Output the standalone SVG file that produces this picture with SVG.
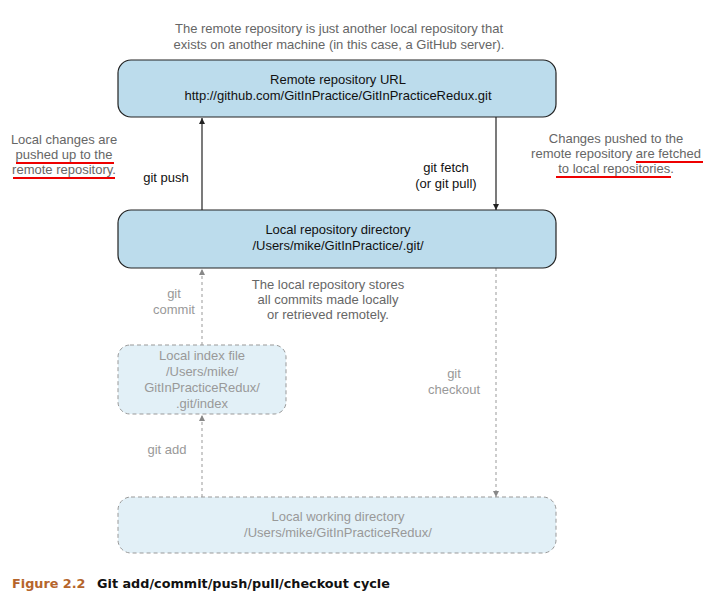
<svg xmlns="http://www.w3.org/2000/svg" width="709" height="601" viewBox="0 0 709 601">
<style>
text{font-family:"Liberation Sans",Arial,sans-serif;font-size:13px;text-anchor:middle}
.g{fill:#666}
.lg{fill:#999}
.k{fill:#111}
.solid{fill:#bcdcec;stroke:#222;stroke-width:1.2}
.dash{fill:#e2f0f7;stroke:#999;stroke-width:1;stroke-dasharray:4 3}
.ul{stroke:#e00;stroke-width:2}
</style>
<defs>
<marker id="ak" viewBox="0 0 6 8" refX="6" refY="4" markerWidth="6" markerHeight="8" orient="auto" markerUnits="userSpaceOnUse"><path d="M0,1 L6,4 L0,7 Z" fill="#222"/></marker>
<marker id="ag" viewBox="0 0 6 8" refX="6" refY="4" markerWidth="6" markerHeight="8" orient="auto" markerUnits="userSpaceOnUse"><path d="M0,1 L6,4 L0,7 Z" fill="#888"/></marker>
</defs>
<text class="g" x="339" y="33">The remote repository is just another local repository that</text>
<text class="g" x="339" y="49">exists on another machine (in this case, a GitHub server).</text>
<text class="g" x="64" y="144">Local changes are</text>
<text class="g" x="64" y="159">pushed up to the</text>
<text class="g" x="64" y="174">remote repository.</text>
<line class="ul" x1="16" y1="163" x2="114" y2="163"/>
<line class="ul" x1="13" y1="178" x2="115" y2="178"/>
<text class="g" x="616" y="143">Changes pushed to the</text>
<text class="g" x="616" y="158">remote repository are fetched</text>
<text class="g" x="616" y="173">to local repositories.</text>
<line class="ul" x1="636" y1="162" x2="703" y2="162"/>
<line class="ul" x1="556" y1="177" x2="671" y2="177"/>
<text class="g" x="328" y="289">The local repository stores</text>
<text class="g" x="328" y="304">all commits made locally</text>
<text class="g" x="328" y="319">or retrieved remotely.</text>
<g id="connectors">
<line x1="202" y1="210" x2="202" y2="118" stroke="#222" stroke-width="1.2" marker-end="url(#ak)"/>
<line x1="496" y1="117" x2="496" y2="210" stroke="#222" stroke-width="1.2" marker-end="url(#ak)"/>
<line x1="202" y1="345" x2="202" y2="269" stroke="#999" stroke-width="1" stroke-dasharray="3 3" marker-end="url(#ag)"/>
<line x1="202" y1="497" x2="202" y2="415" stroke="#999" stroke-width="1" stroke-dasharray="3 3" marker-end="url(#ag)"/>
<line x1="496" y1="268" x2="496" y2="497" stroke="#999" stroke-width="1" stroke-dasharray="3 3" marker-end="url(#ag)"/>
<text class="k" x="166" y="182">git push</text>
<text class="k" x="446" y="172">git fetch</text>
<text class="k" x="446" y="188">(or git pull)</text>
<text class="lg" x="174" y="298">git</text>
<text class="lg" x="174" y="314">commit</text>
<text class="lg" x="454" y="378">git</text>
<text class="lg" x="454" y="394">checkout</text>
<text class="lg" x="167" y="454">git add</text>
</g>
<g id="remote">
<rect class="solid" x="118" y="60" width="438" height="57" rx="13"/>
<text class="k" x="338" y="84">Remote repository URL</text>
<text class="k" x="338" y="100">http://github.com/GitInPractice/GitInPracticeRedux.git</text>
</g>
<g id="localrepo">
<rect class="solid" x="118" y="210" width="438" height="58" rx="13"/>
<text class="k" x="338" y="234">Local repository directory</text>
<text class="k" x="338" y="250">/Users/mike/GitInPractice/.git/</text>
</g>
<g id="index">
<rect class="dash" x="118" y="345" width="168" height="69" rx="12"/>
<text class="lg" x="202" y="360">Local index file</text>
<text class="lg" x="202" y="376">/Users/mike/</text>
<text class="lg" x="202" y="392">GitInPracticeRedux/</text>
<text class="lg" x="202" y="408">.git/index</text>
</g>
<g id="working">
<rect class="dash" x="118" y="497" width="438" height="56" rx="13"/>
<text class="lg" x="338" y="521">Local working directory</text>
<text class="lg" x="338" y="537">/Users/mike/GitInPracticeRedux/</text>
</g>
<text x="12" y="588" style="text-anchor:start;font-family:'DejaVu Sans',sans-serif;font-weight:bold;font-size:12.8px;fill:#b5652b">Figure 2.2</text>
<text x="97" y="588" style="text-anchor:start;font-family:'DejaVu Sans',sans-serif;font-weight:bold;font-size:12.8px;fill:#111">Git add/commit/push/pull/checkout cycle</text>
</svg>
